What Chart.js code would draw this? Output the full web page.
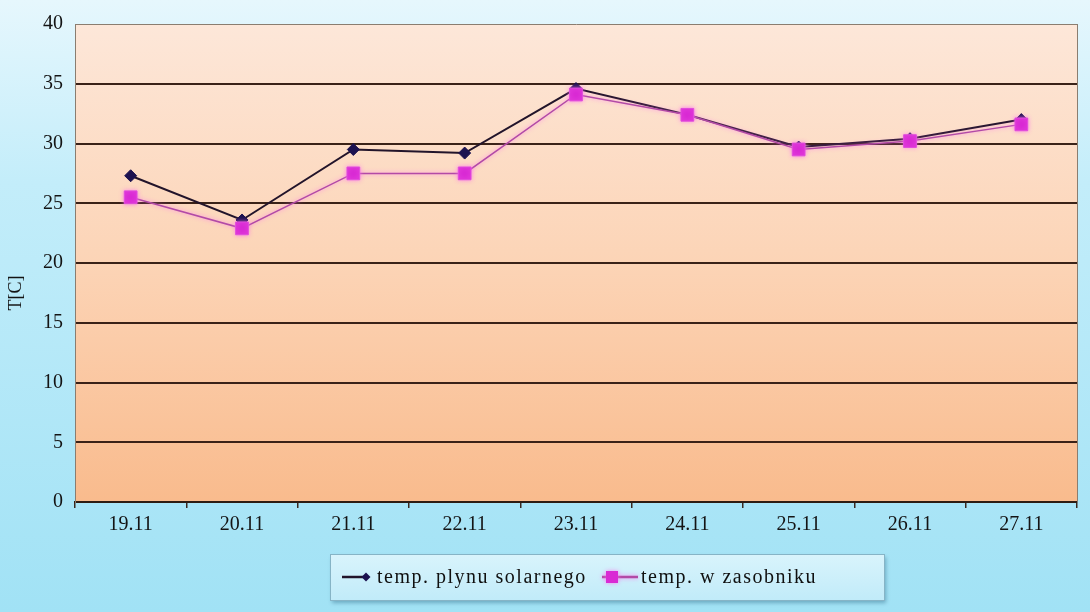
<!DOCTYPE html>
<html>
<head>
<meta charset="utf-8">
<script src="https://cdn.jsdelivr.net/npm/chart.js@4/dist/chart.umd.min.js"></script>
<style>
  html, body { margin: 0; padding: 0; background: #ffffff; }
  #wrap { width: 1090px; height: 612px; position: relative; }
  canvas { display: block; }
</style>
</head>
<body>
<div id="wrap"><canvas id="chart" width="1090" height="612"></canvas></div>
<script>
// Daily temperatures, 19–27 November
const categories = ['19.11', '20.11', '21.11', '22.11', '23.11', '24.11', '25.11', '26.11', '27.11'];
const solarFluidTemp = [27.3, 23.6, 29.5, 29.2, 34.6, 32.4, 29.7, 30.4, 32.0];
const tankTemp = [25.5, 22.9, 27.5, 27.5, 34.1, 32.4, 29.5, 30.2, 31.6];
const seriesLabels = ['temp. plynu solarnego', 'temp. w zasobniku'];
const yAxisTitle = 'T[C]';
const yMin = 0;
const yMax = 40;
const yStep = 5;

const SERIF = '"Liberation Serif", "Times New Roman", serif';

// Backgrounds: light blue page fill and the peach plot-area gradient
const backgroundPlugin = {
  id: 'backgrounds',
  beforeDraw(chart) {
    const { ctx, width, height, chartArea: a } = chart;
    ctx.save();
    const outer = ctx.createLinearGradient(0, 0, 0, height);
    outer.addColorStop(0, '#e6f7fd');
    outer.addColorStop(0.3, '#c3edfa');
    outer.addColorStop(1, '#a1e2f5');
    ctx.fillStyle = outer;
    ctx.fillRect(0, 0, width, height);

    const inner = ctx.createLinearGradient(0, a.top, 0, a.bottom);
    inner.addColorStop(0, '#fde7d9');
    inner.addColorStop(0.5, '#fcd4b6');
    inner.addColorStop(1, '#f9bb8d');
    ctx.fillStyle = inner;
    ctx.fillRect(a.left, a.top, a.right - a.left, a.bottom - a.top);
    ctx.restore();
  },
  afterDatasetsDraw(chart) {
    // thin frame on the right edge of the plot area
    const { ctx, chartArea: a } = chart;
    ctx.save();
    ctx.strokeStyle = '#8a7d70';
    ctx.lineWidth = 1;
    ctx.beginPath();
    ctx.moveTo(a.right + 0.5, a.top);
    ctx.lineTo(a.right + 0.5, a.bottom);
    ctx.stroke();
    ctx.restore();
  }
};

// Soft pink glow around the tank series
const glowPlugin = {
  id: 'glow',
  beforeDatasetDraw(chart, args) {
    if (args.index === 1) {
      chart.ctx.save();
      chart.ctx.shadowColor = 'rgba(255, 110, 240, 0.75)';
      chart.ctx.shadowBlur = 4;
    }
  },
  afterDatasetDraw(chart, args) {
    if (args.index === 1) chart.ctx.restore();
  }
};

// Rotated y-axis title
const yTitlePlugin = {
  id: 'yTitle',
  afterDraw(chart) {
    const { ctx } = chart;
    ctx.save();
    ctx.translate(16, 293);
    ctx.rotate(-Math.PI / 2);
    ctx.font = '18px ' + SERIF;
    ctx.fillStyle = '#141414';
    ctx.textAlign = 'center';
    ctx.textBaseline = 'middle';
    ctx.fillText(yAxisTitle, 0, 0);
    ctx.restore();
  }
};

// Boxed legend with line + marker samples
function drawMarker(ctx, style, x, y, r, fill) {
  ctx.fillStyle = fill;
  ctx.beginPath();
  if (style === 'rectRot') {
    ctx.moveTo(x - r, y);
    ctx.lineTo(x, y - r);
    ctx.lineTo(x + r, y);
    ctx.lineTo(x, y + r);
  } else {
    ctx.rect(x - r, y - r, 2 * r, 2 * r);
  }
  ctx.closePath();
  ctx.fill();
}

const legendPlugin = {
  id: 'boxLegend',
  afterDraw(chart) {
    const { ctx } = chart;
    const box = { x: 330, y: 554, w: 554, h: 46 };
    const items = [
      { lineFrom: 342, lineTo: 367, markerX: 366, markerR: 4.5, textX: 377 },
      { lineFrom: 602, lineTo: 638, markerX: 612, markerR: 6, textX: 641 }
    ];
    const cy = 577;
    ctx.save();
    ctx.shadowColor = 'rgba(40, 100, 130, 0.45)';
    ctx.shadowOffsetX = 2;
    ctx.shadowOffsetY = 3;
    ctx.shadowBlur = 4;
    const g = ctx.createLinearGradient(0, box.y, 0, box.y + box.h);
    g.addColorStop(0, '#d9f4fc');
    g.addColorStop(1, '#c1ebf9');
    ctx.fillStyle = g;
    ctx.fillRect(box.x, box.y, box.w, box.h);
    ctx.restore();

    ctx.save();
    ctx.strokeStyle = '#86b4c6';
    ctx.lineWidth = 1;
    ctx.strokeRect(box.x + 0.5, box.y + 0.5, box.w, box.h);

    chart.data.datasets.forEach((ds, i) => {
      const it = items[i];
      ctx.save();
      if (i === 1) {
        ctx.shadowColor = 'rgba(255, 110, 240, 0.8)';
        ctx.shadowBlur = 4;
      }
      ctx.strokeStyle = ds.borderColor;
      ctx.lineWidth = 2.5;
      ctx.beginPath();
      ctx.moveTo(it.lineFrom, cy);
      ctx.lineTo(it.lineTo, cy);
      ctx.stroke();
      drawMarker(ctx, ds.pointStyle, it.markerX, cy, it.markerR, ds.pointBackgroundColor);
      ctx.restore();

      ctx.font = '20px ' + SERIF;
      ctx.fillStyle = '#101010';
      ctx.textAlign = 'left';
      ctx.textBaseline = 'alphabetic';
      try { ctx.letterSpacing = '1.5px'; } catch (e) {}
      ctx.fillText(ds.label, it.textX, 583);
    });
    ctx.restore();
  }
};

new Chart(document.getElementById('chart'), {
  type: 'line',
  data: {
    labels: categories,
    datasets: [
      {
        label: seriesLabels[0],
        data: solarFluidTemp,
        borderColor: '#22142a',
        borderWidth: 2,
        pointStyle: 'rectRot',
        pointRadius: 6,
        pointBackgroundColor: '#1c1250',
        pointBorderColor: '#1c1250',
        pointBorderWidth: 1,
        tension: 0,
        order: 1
      },
      {
        label: seriesLabels[1],
        data: tankTemp,
        borderColor: '#b24aa6',
        borderWidth: 1.5,
        pointStyle: 'rect',
        pointRadius: 9,
        pointBackgroundColor: '#d92ad4',
        pointBorderColor: '#e04ddc',
        pointBorderWidth: 1,
        tension: 0,
        order: 0
      }
    ]
  },
  options: {
    responsive: false,
    animation: false,
    events: [],
    layout: { padding: { left: 0, right: 13, top: 22, bottom: 0 } },
    plugins: {
      legend: { display: false },
      tooltip: { enabled: false },
      title: { display: false }
    },
    scales: {
      x: {
        offset: true,
        grid: {
          display: true,
          offset: true,
          drawOnChartArea: false,
          drawTicks: true,
          tickLength: 6,
          color: '#3a2a20',
          lineWidth: 1.5
        },
        border: { display: true, color: '#2e1c12', width: 2 },
        ticks: {
          color: '#141414',
          font: { family: SERIF, size: 20 },
          padding: 5,
          maxRotation: 0,
          autoSkip: false
        },
        afterFit(scale) { scale.height = 110; }
      },
      y: {
        min: yMin,
        max: yMax,
        ticks: {
          stepSize: yStep,
          color: '#141414',
          font: { family: SERIF, size: 20 },
          padding: 12
        },
        grid: {
          drawTicks: false,
          color: (c) => (c.tick && c.tick.value === yMax ? '#8a7d70' : '#3a2218'),
          lineWidth: (c) => (c.tick && c.tick.value === yMax ? 1 : 2)
        },
        border: { display: true, color: '#8a7d70', width: 1 },
        afterFit(scale) { scale.width = 75; }
      }
    }
  },
  plugins: [backgroundPlugin, glowPlugin, yTitlePlugin, legendPlugin]
});
</script>
</body>
</html>
